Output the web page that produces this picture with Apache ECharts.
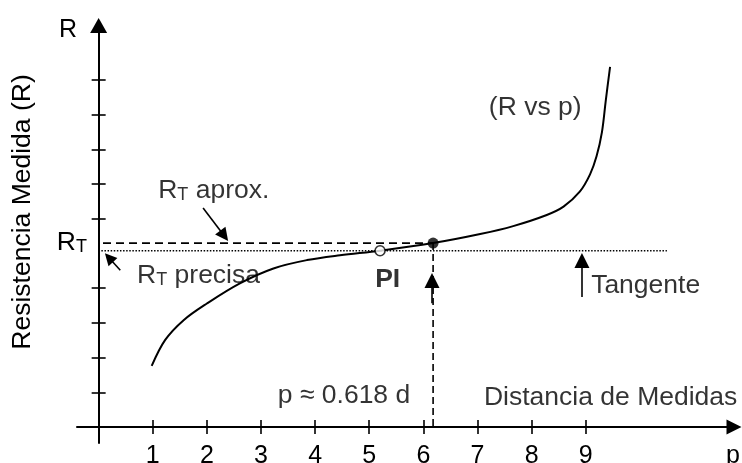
<!DOCTYPE html>
<html>
<head>
<meta charset="utf-8">
<script src="https://cdn.jsdelivr.net/npm/echarts@6/dist/echarts.min.js"></script>
<style>
  html, body { margin: 0; padding: 0; background: #fff; }
  #chart { width: 742px; height: 463px; }
</style>
</head>
<body>
<div id="chart"></div>
<script>
// Measured resistance R as a function of probe distance p
const curveP = [0.98, 1.23, 1.57, 2.0, 2.61, 3.23, 3.85, 4.46, 5.2, 6.18, 7.05, 7.66, 8.28, 8.59, 8.89, 9.08, 9.2, 9.3, 9.37, 9.45];
const curveR = [1.76, 2.51, 3.08, 3.56, 4.14, 4.57, 4.81, 4.95, 5.08, 5.30, 5.56, 5.79, 6.11, 6.35, 6.78, 7.28, 7.8, 8.5, 9.4, 10.38];

// Axis ticks (the tick at R = 5 is left out)
const xTicks = [1, 2, 3, 4, 5, 6, 7, 8, 9];
const yTicks = [1, 2, 3, 4, 6, 7, 8, 9, 10];

// Reference levels and points
const rtApprox = 5.30;    // R_T read at p = 0.618 d
const rtPrecise = 5.08;   // R_T from the tangent at the inflection point
const pOpt = 6.18;        // p ≈ 0.618 d
const pInflex = 5.2;      // inflection point PI
const tangentFrom = 0.05;
const tangentTo = 10.5;

// Annotation arrows: [tail, head]
const arrowApprox = [[1.93, 6.31], [2.32, 5.51]];
const arrowPrecise = [[0.40, 4.52], [0.19, 4.88]];
const arrowPopt = [[6.16, 3.57], [6.16, 4.22]];
const arrowTangent = [[8.93, 3.75], [8.93, 4.80]];

// Annotation texts and anchors (left edge, vertical middle)
const noteTexts = ['{r|R}{t|T}{r| aprox.}', '{r|R}{t|T}{r| precisa}', '{b|PI}', '{r|p ≈ 0.618 d}', '{r|Distancia de Medidas}', '{r|(R vs p)}', '{r|Tangente}'];
const notePos = [[1.10, 6.80], [0.71, 4.36], [5.11, 4.26], [3.31, 0.91], [7.12, 0.84], [7.21, 9.20], [9.10, 4.08]];

const xMin = -0.4, xMax = 11.74, yMin = -0.46, yMax = 11.57;
const FONT = '"Liberation Sans", Arial, sans-serif';
const FS = 26.5;

const richStyles = {
  r: { fontSize: FS, fontFamily: FONT, color: '#000', lineHeight: FS },
  t: { fontSize: 18, fontFamily: FONT, color: '#000', lineHeight: 18, verticalAlign: 'bottom' },
  b: { fontSize: FS, fontFamily: FONT, color: '#000', fontWeight: 'bold', lineHeight: FS },
  rr: { fontSize: 25, fontFamily: FONT, color: '#000', lineHeight: 25, padding: [0, 10, 0, 0] }
};

const chart = echarts.init(document.getElementById('chart'), null, { renderer: 'canvas' });

function arrowSeries(pts, size) {
  return {
    type: 'lines',
    coordinateSystem: 'cartesian2d',
    xAxisIndex: 0, yAxisIndex: 0,
    polyline: false,
    symbol: ['none', 'triangle'],
    symbolSize: size,
    lineStyle: { color: '#000', width: 1.6, opacity: 1, curveness: 0 },
    silent: true,
    z: 5,
    data: [{ coords: pts }]
  };
}

const tickStyle = { color: '#000', width: 1.6 };

chart.setOption({
  animation: false,
  backgroundColor: '#fff',
  textStyle: { color: '#000', fontFamily: FONT },
  grid: { left: 77, right: 8, top: 25.5, bottom: 20, containLabel: false, outerBoundsMode: 'none' },
  xAxis: [
    {
      type: 'value', min: xMin, max: xMax,
      axisLine: { onZero: true, onZeroAxisIndex: 0, symbol: ['none', 'triangle'], symbolSize: [15, 15], lineStyle: { color: '#000', width: 2 } },
      axisTick: { customValues: xTicks, length: 7, lineStyle: tickStyle },
      axisLabel: {
        customValues: xTicks.concat([11.72]),
        formatter: v => (v > 10 ? 'p' : String(v)),
        color: '#000', fontSize: 25, fontFamily: FONT, margin: 1
      },
      splitLine: { show: false }
    },
    {
      type: 'value', position: 'top', min: xMin, max: xMax,
      axisLine: { show: false, onZero: true, onZeroAxisIndex: 0 },
      axisTick: { customValues: xTicks, length: 7, lineStyle: tickStyle },
      axisLabel: { show: false },
      splitLine: { show: false }
    }
  ],
  yAxis: [
    {
      type: 'value', min: yMin, max: yMax,
      axisLine: { onZero: true, onZeroAxisIndex: 0, symbol: ['none', 'triangle'], symbolSize: [17, 15], lineStyle: { color: '#000', width: 2 } },
      axisTick: { customValues: yTicks, length: 7, lineStyle: tickStyle },
      axisLabel: {
        customValues: [rtApprox, 11.45],
        formatter: v => (v > 10 ? '{rr|R}' : '{r|R}{t|T}'),
        rich: richStyles,
        color: '#000',
        margin: -10
      },
      splitLine: { show: false }
    },
    {
      type: 'value', position: 'right', min: yMin, max: yMax,
      axisLine: { show: false, onZero: true, onZeroAxisIndex: 0 },
      axisTick: { customValues: yTicks, length: 7, lineStyle: tickStyle },
      axisLabel: { show: false },
      splitLine: { show: false }
    }
  ],
  graphic: [
    {
      type: 'text', x: 23, y: 212, rotation: Math.PI / 2,
      style: { text: 'Resistencia Medida (R)', font: FS + 'px ' + FONT, fill: '#000', align: 'center', verticalAlign: 'middle' }
    }
  ],
  series: [
    {
      name: 'R vs p', type: 'line', xAxisIndex: 0, yAxisIndex: 0,
      data: curveP.map((p, i) => [p, curveR[i]]),
      smooth: 0.35, showSymbol: false, silent: true,
      lineStyle: { color: '#000', width: 2 }, z: 4
    },
    {
      name: 'R_T aprox', type: 'line', xAxisIndex: 0, yAxisIndex: 0,
      data: [[0.08, rtApprox], [pOpt, rtApprox]],
      showSymbol: false, silent: true,
      lineStyle: { color: '#000', width: 1.6, type: [8, 5] }, z: 3
    },
    {
      name: 'p opt', type: 'line', xAxisIndex: 0, yAxisIndex: 0,
      data: [[pOpt, rtApprox], [pOpt, 0]],
      showSymbol: false, silent: true,
      lineStyle: { color: '#000', width: 1.6, type: [7, 4] }, z: 3
    },
    {
      name: 'Tangente', type: 'line', xAxisIndex: 0, yAxisIndex: 0,
      data: [[tangentFrom, rtPrecise], [tangentTo, rtPrecise]],
      showSymbol: false, silent: true,
      lineStyle: { color: '#000', width: 1.5, type: [1.5, 1.6] }, z: 3
    },
    {
      name: 'PI', type: 'scatter', xAxisIndex: 0, yAxisIndex: 0,
      data: [[pInflex, rtPrecise]],
      symbol: 'circle', symbolSize: 10, silent: true,
      itemStyle: { color: '#fff', borderColor: '#000', borderWidth: 1.6 }, z: 6
    },
    {
      name: 'p ≈ 0.618 d', type: 'scatter', xAxisIndex: 0, yAxisIndex: 0,
      data: [[pOpt, rtApprox]],
      symbol: 'circle', symbolSize: 11, silent: true,
      itemStyle: { color: '#000' }, z: 6
    },
    arrowSeries(arrowApprox, [9, 13]),
    arrowSeries(arrowPrecise, [9, 12]),
    arrowSeries(arrowPopt, [14, 15]),
    arrowSeries(arrowTangent, [10, 15]),
    {
      name: 'notas', type: 'scatter', xAxisIndex: 0, yAxisIndex: 0,
      symbolSize: 0, silent: true, z: 7,
      data: notePos.map((pos, i) => ({
        value: pos,
        label: { show: true, position: 'right', distance: 0, color: '#000', formatter: noteTexts[i], rich: richStyles }
      }))
    }
  ]
});
</script>
</body>
</html>
